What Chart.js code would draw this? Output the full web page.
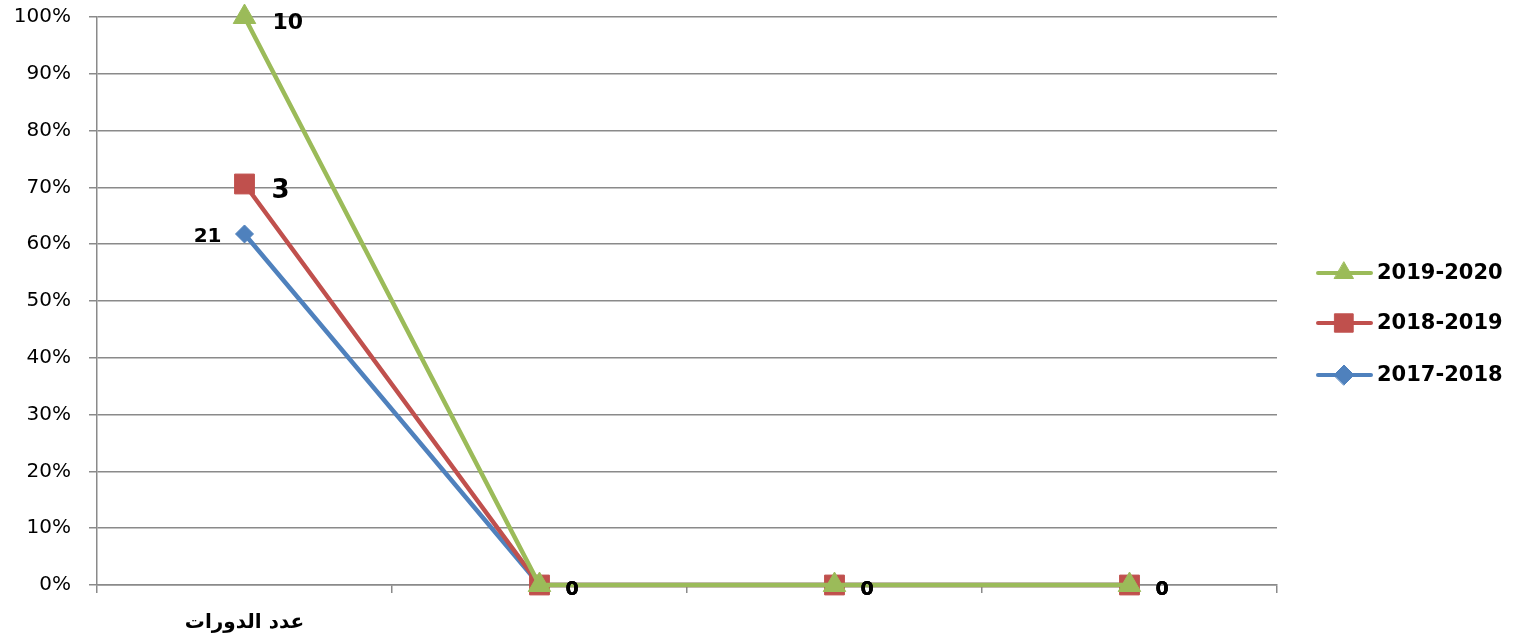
<!DOCTYPE html>
<html>
<head>
<meta charset="utf-8">
<script src="https://cdn.jsdelivr.net/npm/chart.js@4"></script>
<style>
html,body{margin:0;padding:0;background:#fff;}
#wrap{width:1518px;height:640px;position:relative;}
</style>
</head>
<body>
<div id="wrap"><canvas id="c" width="1518" height="640"></canvas></div>
<script>
// ---- data ----
const categories = ['عدد الدورات', '', '', ''];
const seriesNames = ['2019-2020', '2018-2019', '2017-2018'];
const values2019_2020 = [100, 0, 0, 0];
const values2018_2019 = [70.6, 0, 0, 0];
const values2017_2018 = [61.8, 0, 0, 0];
const labels2019_2020 = ['10', '0', '0', '0'];
const labels2018_2019 = ['3', '0', '0', '0'];
const labels2017_2018 = ['21', '0', '0', '0'];
const yMin = 0, yMax = 100, yStep = 10;

// ---- styles ----
const colors = ['#9BBB59', '#C0504D', '#4F81BD'];
const pointStyles = ['triangle', 'rect', 'rectRot'];
const pointRadii = [13, 14, 9];
const FONT = "'DejaVu Sans', 'Liberation Sans', sans-serif";
const GRID = '#8a8a8a';

const pointLabels = [labels2019_2020, labels2018_2019, labels2017_2018];
const firstLabelStyle = [
  {size: 22, dx: 28, dy: 12, align: 'left'},
  {size: 26, dx: 27, dy: 14, align: 'left'},
  {size: 20, dx: -23, dy: 8, align: 'right'}
];
const zeroStyle = {size: 19, dx: 26, dy: 10, align: 'left'};

const dataLabelPlugin = {
  id: 'dataLabels',
  afterDatasetsDraw(chart) {
    const ctx = chart.ctx;
    ctx.save();
    ctx.fillStyle = '#000';
    ctx.textBaseline = 'alphabetic';
    for (let d = chart.data.datasets.length - 1; d >= 0; d--) {
      const meta = chart.getDatasetMeta(d);
      meta.data.forEach((pt, i) => {
        const st = i === 0 ? firstLabelStyle[d] : zeroStyle;
        ctx.font = 'bold ' + st.size + 'px ' + FONT;
        ctx.textAlign = st.align;
        ctx.fillText(pointLabels[d][i], pt.x + st.dx, pt.y + st.dy);
      });
    }
    ctx.restore();
  }
};

const legendPlugin = {
  id: 'customLegend',
  afterDraw(chart) {
    const ctx = chart.ctx;
    const ys = [273, 323, 375];
    ctx.save();
    chart.data.datasets.forEach((ds, i) => {
      const y = ys[i];
      ctx.strokeStyle = ds.borderColor;
      ctx.fillStyle = ds.borderColor;
      ctx.lineWidth = 4;
      ctx.lineCap = 'round';
      ctx.beginPath();
      ctx.moveTo(1318, y);
      ctx.lineTo(1371, y);
      ctx.stroke();
      ctx.lineWidth = 1;
      Chart.helpers.drawPoint(ctx, {pointStyle: ds.pointStyle, radius: [11, 13, 10][i], rotation: 0, borderWidth: 1}, 1344, y);
      ctx.fillStyle = '#000';
      ctx.font = 'bold 21px ' + FONT;
      ctx.textAlign = 'left';
      ctx.textBaseline = 'middle';
      ctx.fillText(ds.label, 1377, y + 1);
    });
    ctx.restore();
  }
};

const seriesValues = [values2019_2020, values2018_2019, values2017_2018];

new Chart(document.getElementById('c'), {
  type: 'line',
  data: {
    labels: categories,
    datasets: seriesNames.map((name, i) => ({
      label: name,
      data: seriesValues[i],
      borderColor: colors[i],
      backgroundColor: colors[i],
      pointBackgroundColor: colors[i],
      pointBorderColor: colors[i],
      pointBorderWidth: 1,
      pointStyle: pointStyles[i],
      pointRadius: pointRadii[i],
      borderWidth: 4.5,
      tension: 0,
      fill: false,
      clip: false
    }))
  },
  options: {
    responsive: false,
    animation: false,
    devicePixelRatio: 1,
    layout: {padding: {top: 17, right: 241, left: 0, bottom: 0}},
    plugins: {
      legend: {display: false},
      tooltip: {enabled: false}
    },
    scales: {
      x: {
        offset: true,
        grid: {display: true, drawOnChartArea: false, drawTicks: true, tickLength: 8, color: GRID, lineWidth: 1.5, offset: true},
        border: {display: true, color: GRID, width: 1.5},
        ticks: {
          color: '#000',
          font: {family: FONT, size: 20, weight: 'bold'},
          padding: 18,
          maxRotation: 0,
          autoSkip: false
        },
        afterFit(scale) { scale.height = 55; scale.paddingLeft = 0; scale.paddingRight = 0; }
      },
      y: {
        min: yMin,
        max: yMax,
        grid: {color: GRID, lineWidth: 1.5, tickLength: 8, drawTicks: true},
        border: {display: true, color: GRID, width: 1.5},
        ticks: {
          stepSize: yStep,
          color: '#000',
          padding: 18,
          font: {family: FONT, size: 20},
          callback: v => v + '%'
        },
        afterFit(scale) { scale.width = 97; scale.paddingTop = 0; scale.paddingBottom = 0; }
      }
    }
  },
  plugins: [dataLabelPlugin, legendPlugin]
});
</script>
</body>
</html>
